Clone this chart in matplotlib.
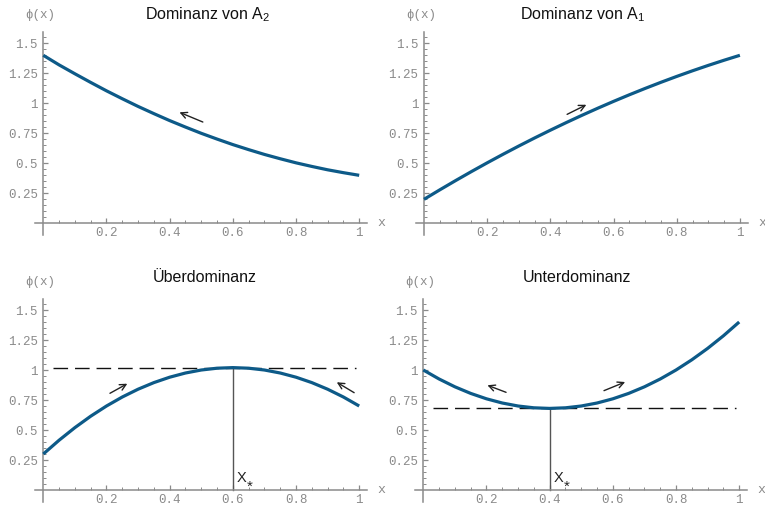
import matplotlib
matplotlib.use("Agg")
import matplotlib.pyplot as plt

# ---------------- data ----------------
x_vals = [0.00, 0.05, 0.10, 0.15, 0.20, 0.25, 0.30, 0.35, 0.40, 0.45, 0.50,
          0.55, 0.60, 0.65, 0.70, 0.75, 0.80, 0.85, 0.90, 0.95, 1.00]

phi_dom_A2 = [1.40, 1.32, 1.246, 1.174, 1.104, 1.038, 0.974, 0.914, 0.856, 0.802, 0.75,
              0.702, 0.656, 0.614, 0.574, 0.538, 0.504, 0.474, 0.446, 0.422, 0.40]
phi_dom_A1 = [0.20, 0.279, 0.356, 0.431, 0.504, 0.575, 0.644, 0.711, 0.776, 0.839, 0.90,
              0.959, 1.016, 1.071, 1.124, 1.175, 1.224, 1.271, 1.316, 1.359, 1.40]
phi_over = [0.30, 0.415, 0.52, 0.615, 0.70, 0.775, 0.84, 0.895, 0.94, 0.975, 1.00,
            1.015, 1.02, 1.015, 1.00, 0.975, 0.94, 0.895, 0.84, 0.775, 0.70]
phi_under = [1.00, 0.925, 0.86, 0.805, 0.76, 0.725, 0.70, 0.685, 0.68, 0.685, 0.70,
             0.725, 0.76, 0.805, 0.86, 0.925, 1.00, 1.085, 1.18, 1.285, 1.40]

titles = [r"Dominanz von A$_{\mathrm{2}}$", r"Dominanz von A$_{\mathrm{1}}$",
          "Überdominanz", "Unterdominanz"]

x_ticks = [0.2, 0.4, 0.6, 0.8, 1.0]
x_tick_labels = ["0.2", "0.4", "0.6", "0.8", "1"]
y_ticks = [0.25, 0.5, 0.75, 1.0, 1.25, 1.5]
y_tick_labels = ["0.25", "0.5", "0.75", "1", "1.25", "1.5"]

# equilibria (x*, phi(x*)) for the lower panels
eq_over = (0.6, 1.02)
eq_under = (0.4, 0.68)

# direction arrows: (tail_x, tail_y, head_x, head_y)
arrows_A2 = [(0.505, 0.844, 0.431, 0.925)]
arrows_A1 = [(0.453, 0.908, 0.514, 0.988)]
arrows_over = [(0.211, 0.806, 0.266, 0.886), (0.984, 0.811, 0.929, 0.898)]
arrows_under = [(0.262, 0.814, 0.203, 0.873), (0.572, 0.828, 0.639, 0.900)]

# ---------------- style ----------------
plt.rcParams['mathtext.fontset'] = 'custom'
plt.rcParams['mathtext.rm'] = 'Liberation Sans'
plt.rcParams['mathtext.it'] = 'Liberation Sans'
plt.rcParams['lines.scale_dashes'] = False

W, H = 765, 505
fig = plt.figure(figsize=(W / 100, H / 100), dpi=100)
fig.patch.set_facecolor('white')

CURVE = '#0d5a88'
AXC = '#8a8a8a'
TICKC = '#8a8a8a'
MONO = ['Liberation Mono', 'DejaVu Sans Mono']

XLIM = (-0.026, 1.025)
YLIM = (-0.0975, 1.594)
AX_W, AX_H = 332, 203


def make_axes(x0_px, y0_px):
    """x0_px, y0_px: pixel position of the data origin."""
    left = x0_px + XLIM[0] * 315.6
    top = y0_px - YLIM[1] * 120.0
    ax = fig.add_axes([left / W, 1 - (top + AX_H) / H, AX_W / W, AX_H / H])
    ax.set_xlim(*XLIM)
    ax.set_ylim(*YLIM)
    ax.patch.set_alpha(0)
    for s in ['top', 'right']:
        ax.spines[s].set_visible(False)
    ax.spines['left'].set_position(('data', 0))
    ax.spines['bottom'].set_position(('data', 0))
    for s in ['left', 'bottom']:
        ax.spines[s].set_color(AXC)
        ax.spines[s].set_linewidth(1.1)
    ax.set_xticks(x_ticks)
    ax.set_xticklabels(x_tick_labels)
    ax.set_yticks(y_ticks)
    ax.set_yticklabels(y_tick_labels)
    ax.set_xticks([v / 20 for v in range(1, 21)], minor=True)
    ax.set_yticks([v / 20 for v in range(1, 32)], minor=True)
    ax.tick_params(which='major', direction='in', length=3.5, width=0.9,
                   color=AXC, labelcolor=TICKC, labelsize=9)
    ax.tick_params(which='minor', direction='in', length=2.0, width=0.7, color=AXC)
    ax.tick_params(axis='x', which='major', pad=3)
    ax.tick_params(axis='y', which='major', pad=4)
    for lab in ax.get_xticklabels() + ax.get_yticklabels():
        lab.set_family(MONO)
    # axis labels
    ax.text(-0.01, 1.735, "ϕ(x)", transform=ax.transData, ha='center', va='center',
            fontsize=9, color=TICKC, family=MONO, clip_on=False)
    ax.text(1.07, 0.0, "x", transform=ax.transData, ha='center', va='center',
            fontsize=9.5, color=TICKC, family=MONO, clip_on=False)
    return ax


def draw_arrows(ax, arrows):
    for tx, ty, hx, hy in arrows:
        ax.annotate('', xy=(hx, hy), xytext=(tx, ty),
                    arrowprops=dict(arrowstyle='->', lw=1.0, color='#222222',
                                    mutation_scale=11, shrinkA=0, shrinkB=0))


def draw_equilibrium(ax, eq):
    xs, ys = eq
    ax.plot([0.03, 0.99], [ys, ys], color='#111111', lw=1.0, dashes=(10.5, 5), zorder=2)
    ax.plot([xs, xs], [0, ys], color='#555555', lw=1.0, zorder=2)
    ax.text(xs + 0.012, 0.068, "X", ha='left', va='baseline',
            fontsize=10.5, color='#222222', family='Liberation Sans')
    ax.text(xs + 0.054, 0.030, "*", ha='center', va='center',
            fontsize=11, color='#222222', family='Liberation Sans')


panels = [
    (43.3, 223.3, phi_dom_A2, arrows_A2, None, 208, 15),
    (424.0, 223.3, phi_dom_A1, arrows_A1, None, 583, 15),
    (43.3, 490.0, phi_over, arrows_over, eq_over, 205, 278),
    (423.3, 490.0, phi_under, arrows_under, eq_under, 577, 278),
]

for i, (x0, y0, yvals, arrs, eq, tx, ty) in enumerate(panels):
    ax = make_axes(x0, y0)
    if eq is not None:
        draw_equilibrium(ax, eq)
    ax.plot(x_vals, yvals, color=CURVE, lw=2.3, solid_capstyle='butt', zorder=3)
    draw_arrows(ax, arrs)
    fig.text(tx / W, 1 - ty / H, titles[i], ha='center', va='center',
             fontsize=11.5, color='#111111', family='Liberation Sans')

fig.savefig('out.png', dpi=100, facecolor='white')
